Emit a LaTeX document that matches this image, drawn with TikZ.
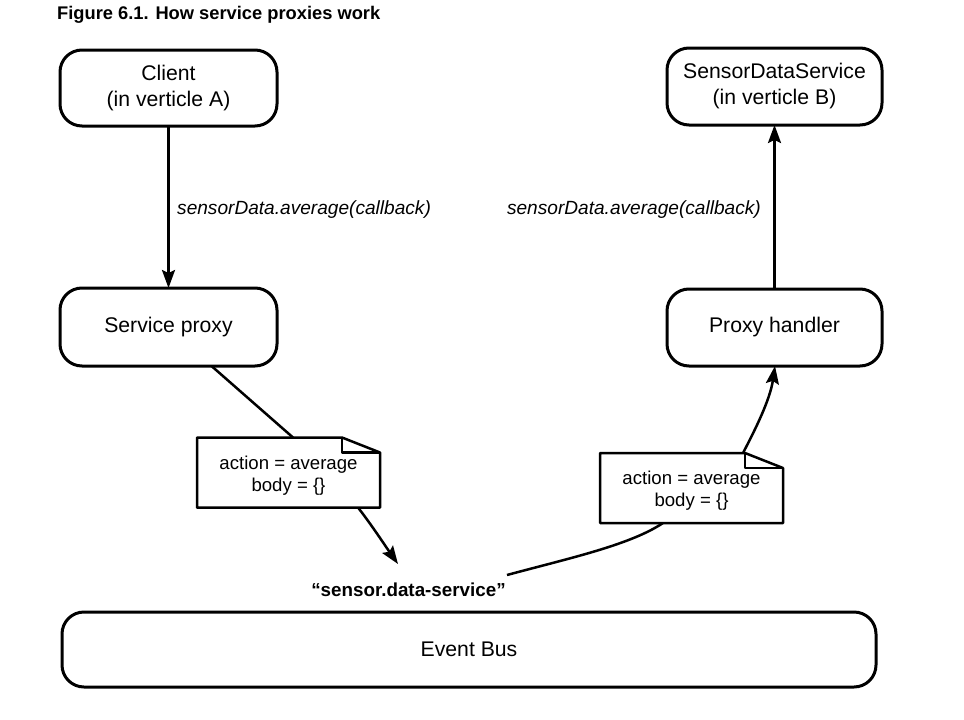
\documentclass[tikz,border=0pt]{standalone}
\usepackage{fontspec}
\setmainfont{Liberation Sans}
\usetikzlibrary{arrows.meta,calc}
\begin{document}
\begin{tikzpicture}[x=1pt,y=-1pt,
  txt/.style={font=\fontsize{21.2}{26}\selectfont},
  rbox/.style={txt,draw,line width=3pt,rounded corners=22pt,align=center,inner sep=0pt,outer sep=0pt},
  notebox/.style={font=\fontsize{18.6}{22}\selectfont,align=center,inner sep=0pt,outer sep=0pt,minimum width=183pt,minimum height=70pt},
  notetext/.style={font=\fontsize{18.6}{22}\selectfont,align=center,inner sep=0pt},
  noteline/.style={line width=2.5pt,line join=round,fill=white},
  conn/.style={line width=2.5pt},
  arr/.style={conn,-{Stealth[length=18pt,width=13pt,inset=3pt]}},
  lbl/.style={font=\itshape\fontsize{19.1}{22}\selectfont,inner sep=0pt}]
\useasboundingbox (0,0) rectangle (964,720);

\node[anchor=west,inner sep=0pt,font=\bfseries\fontsize{18.3}{20}\selectfont] (title) at (57,14.5) {Figure 6.1. How service proxies work};

\node[rbox,minimum width=217pt,minimum height=76pt] (client) at (168.5,88) {Client\\(in verticle A)};
\node[rbox,minimum width=215pt,minimum height=77pt] (sds) at (774.5,86.5) {SensorDataService\\(in verticle B)};
\node[rbox,minimum width=217pt,minimum height=78pt] (sp) at (168.5,327) {Service proxy};
\node[rbox,minimum width=215pt,minimum height=77pt] (ph) at (774.5,327.5) {Proxy handler};
\node[rbox,minimum width=814pt,minimum height=75pt] (bus) at (469,649.5) {Event Bus};

\node[lbl,anchor=west] (l1) at (177,209.5) {sensorData.average(callback)};
\node[lbl,anchor=east] (l2) at (761,210) {sensorData.average(callback)};

\node[inner sep=0pt,font=\bfseries\fontsize{18.8}{22}\selectfont] (addr) at (408.5,589.5) {“sensor.data-service”};

\draw[arr] (client.south) -- (sp.north);
\draw[arr] (ph.north) -- (sds.south);

% notes
\node[notebox] (n1) at (288.5,472.5) {};
\node[notebox] (n2) at (691.5,488) {};

\coordinate (tipL) at (398,564);
\coordinate (startR) at (507,575);

\draw[conn] ($(sp.south)+(43,0)$) -- ($(n1.north west)+(96,0)$);
\draw[arr] ($(n1.south west)+(161,0)$) .. controls ($(n1.south west)+(175,18)$) and ($(n1.south west)+(188,38)$) .. (tipL);
\draw[conn] (startR) .. controls (570,558) and (630,545) .. ($(n2.south west)+(63,0)$);
\draw[arr] ($(n2.north west)+(143,0)$) .. controls ($(n2.north west)+(155,-23)$) and ($(n2.north west)+(170,-53)$) .. ($(ph.south)+(0.5,0)$);

\foreach \n in {n1,n2}{
  \draw[noteline] (\n.north west) -- ($(\n.north east)+(-38,0)$) -- ($(\n.north east)+(0,15)$) -- (\n.south east) -- (\n.south west) -- cycle;
  \draw[line width=2.5pt,line join=round] ($(\n.north east)+(-38,0)$) -- ++(0,15) -- ($(\n.north east)+(0,15)$);
  \node[notetext] (\n t) at ($(\n)+(0,3)$) {action = average\\body = \{\}};
}
\end{tikzpicture}
\end{document}
